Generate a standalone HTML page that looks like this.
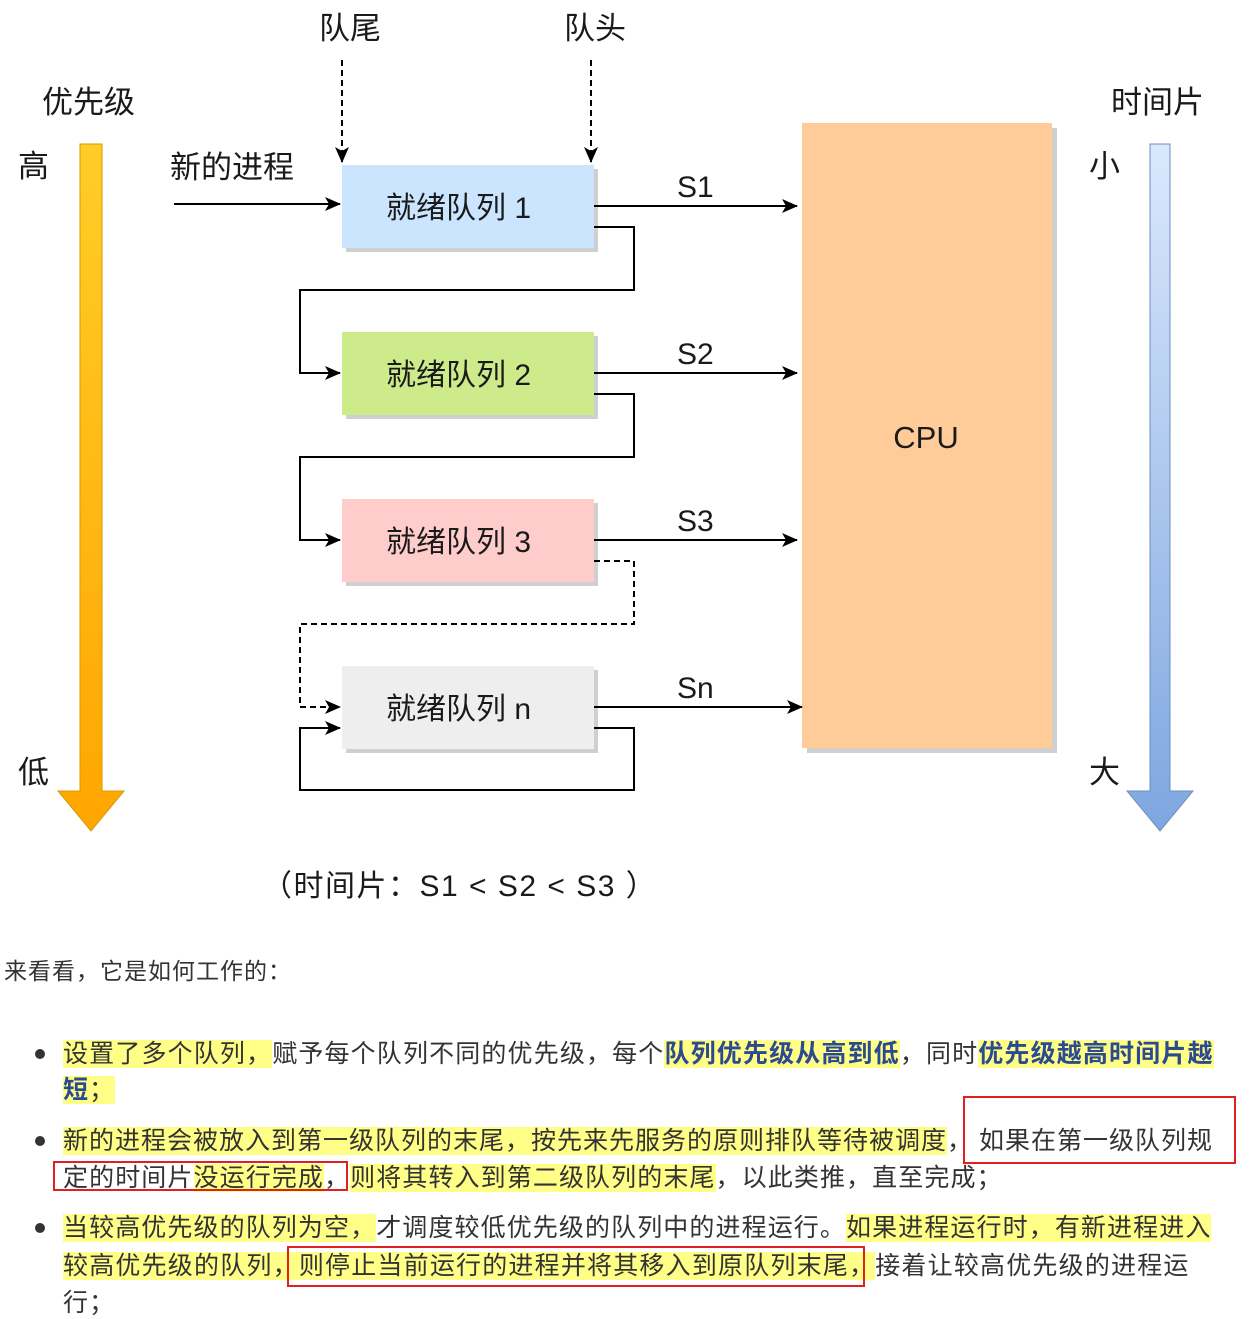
<!DOCTYPE html>
<html><head><meta charset="utf-8"><style>
html,body{margin:0;padding:0;background:#fff;width:1256px;height:1319px;overflow:hidden;position:relative}
svg{position:absolute;left:0;top:0}
svg text{font-family:"Liberation Sans","Noto Sans CJK SC",sans-serif;fill:#1a1a1a}
.t{position:absolute;white-space:nowrap;font-family:"Liberation Sans","Noto Sans CJK SC",sans-serif;font-size:25px;letter-spacing:1px;color:#333;line-height:34px}
.h{background:#ffff88}
.b{color:#2b4a90;font-weight:bold}
.r{position:absolute;border:2px solid #e02020;box-sizing:border-box}
.dot{position:absolute;width:10px;height:10px;border-radius:50%;background:#333}
</style></head><body>
<svg width="1256" height="930" viewBox="0 0 1256 930">
<defs>
<marker id="a2" markerWidth="16" markerHeight="14" refX="15" refY="7" orient="auto" markerUnits="userSpaceOnUse"><path d="M0,0 L16,7 L0,14 L4,7z" fill="#000"/></marker>
<linearGradient id="og" x1="0" y1="0" x2="0" y2="1"><stop offset="0" stop-color="#ffcd28"/><stop offset="1" stop-color="#ffa500"/></linearGradient>
<linearGradient id="bg" x1="0" y1="0" x2="0" y2="1"><stop offset="0" stop-color="#dae8fc"/><stop offset="1" stop-color="#7ea6e0"/></linearGradient>
</defs>
<path d="M80,144 H102 V791 H124 L91,831 L58,791 H80 Z" fill="url(#og)" stroke="#d79b00" stroke-width="1"/>
<path d="M1150,144 H1170 V791 H1193 L1160,831 L1127,791 H1150 Z" fill="url(#bg)" stroke="#6c8ebf" stroke-width="1"/>
<text x="42" y="113" font-size="31">优先级</text>
<text x="18" y="177" font-size="31">高</text>
<text x="18" y="783" font-size="31">低</text>
<text x="1111" y="113" font-size="31">时间片</text>
<text x="1089" y="177" font-size="31">小</text>
<text x="1089" y="783" font-size="31">大</text>
<text x="319" y="39" font-size="31">队尾</text>
<text x="564" y="39" font-size="31">队头</text>
<line x1="342" y1="60" x2="342" y2="162" stroke="#000" stroke-width="2" stroke-dasharray="6,4" marker-end="url(#a2)"/>
<line x1="591" y1="60" x2="591" y2="162" stroke="#000" stroke-width="2" stroke-dasharray="6,4" marker-end="url(#a2)"/>
<text x="170" y="178" font-size="31">新的进程</text>
<line x1="174" y1="204" x2="340" y2="204" stroke="#000" stroke-width="2" marker-end="url(#a2)"/>
<rect x="807" y="128" width="250" height="625" fill="#cfcfcf"/>
<rect x="802" y="123" width="250" height="625" fill="#ffcc99"/>
<text x="926" y="448" font-size="31" text-anchor="middle">CPU</text>
<rect x="346" y="169" width="252" height="83" fill="#cfcfcf"/>
<rect x="342" y="165" width="252" height="83" fill="#cce5ff"/>
<rect x="346" y="336" width="252" height="83" fill="#cfcfcf"/>
<rect x="342" y="332" width="252" height="83" fill="#cdeb8b"/>
<rect x="346" y="503" width="252" height="83" fill="#cfcfcf"/>
<rect x="342" y="499" width="252" height="83" fill="#ffcccc"/>
<rect x="346" y="670" width="252" height="83" fill="#cfcfcf"/>
<rect x="342" y="666" width="252" height="83" fill="#eeeeee"/>
<text x="386" y="218" font-size="30">就绪队列 1</text>
<text x="386" y="385" font-size="30">就绪队列 2</text>
<text x="386" y="552" font-size="30">就绪队列 3</text>
<text x="386" y="719" font-size="30">就绪队列 n</text>
<g stroke="#000" stroke-width="2" fill="none">
<line x1="594" y1="206" x2="797" y2="206" marker-end="url(#a2)"/>
<line x1="594" y1="373" x2="797" y2="373" marker-end="url(#a2)"/>
<line x1="594" y1="540" x2="797" y2="540" marker-end="url(#a2)"/>
<line x1="594" y1="707" x2="802" y2="707" marker-end="url(#a2)"/>
<path d="M594,227 H634 V290 H300 V373 H340" marker-end="url(#a2)"/>
<path d="M594,394 H634 V457 H300 V540 H340" marker-end="url(#a2)"/>
<path d="M594,561 H634 V624 H300 V707 H340" stroke-dasharray="6,4" marker-end="url(#a2)"/>
<path d="M594,728 H634 V790 H300 V728 H340" marker-end="url(#a2)"/>
</g>
<text x="677" y="197" font-size="30">S1</text>
<text x="677" y="364" font-size="30">S2</text>
<text x="677" y="531" font-size="30">S3</text>
<text x="677" y="698" font-size="30">Sn</text>
<text x="262" y="896" font-size="30" letter-spacing="1.5">（时间片：S1 &lt; S2 &lt; S3 ）</text>
</svg>

<div class="t" style="left:4px;top:954px;font-size:23px;letter-spacing:1px">来看看，它是如何工作的：</div>

<div class="dot" style="left:35px;top:1049px"></div>
<div class="t" style="left:63px;top:1037px;letter-spacing:1.15px"><span class="h">设置了多个队列，</span>赋予每个队列不同的优先级，每个<span class="h b">队列优先级从高到低</span>，同时<span class="h b">优先级越高时间片越</span></div>
<div class="t" style="left:63px;top:1073px"><span class="h"><span class="b">短</span>；</span></div>

<div class="dot" style="left:35px;top:1136px"></div>
<div class="t" style="left:63px;top:1124px;letter-spacing:1px"><span class="h">新的进程会被放入到第一级队列的末尾，按先来先服务的原则排队等待被调度</span>，</div>
<div class="r" style="left:963px;top:1096px;width:273px;height:68px"></div>
<div class="t" style="left:979px;top:1124px;letter-spacing:1px">如果在第一级队列规</div>
<div class="t" style="left:63px;top:1161px;letter-spacing:1.1px">定的时间片<span class="h">没运行完成</span>，<span class="h">则将其转入到第二级队列的末尾</span>，以此类推，直至完成；</div>
<div class="r" style="left:53px;top:1161px;width:295px;height:30px"></div>

<div class="dot" style="left:35px;top:1223px"></div>
<div class="t" style="left:63px;top:1211px;letter-spacing:1.1px"><span class="h">当较高优先级的队列为空，</span>才调度较低优先级的队列中的进程运行。<span class="h">如果进程运行时，有新进程进入</span></div>
<div class="t" style="left:63px;top:1249px;letter-spacing:1.2px"><span class="h">较高优先级的队列，</span><span class="h">则停止当前运行的进程并将其移入到原队列末尾，</span>接着让较高优先级的进程运</div>
<div class="r" style="left:287px;top:1246px;width:578px;height:41px"></div>
<div class="t" style="left:63px;top:1286px">行；</div>
</body></html>
